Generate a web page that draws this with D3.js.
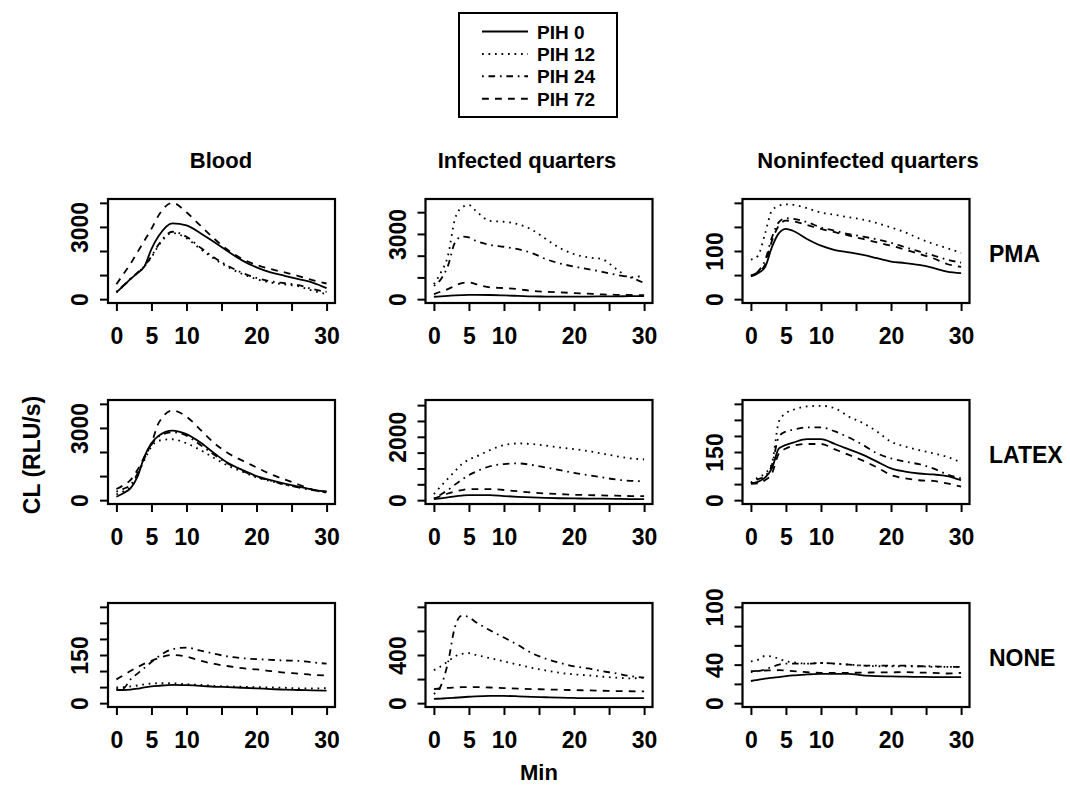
<!DOCTYPE html>
<html>
<head>
<meta charset="utf-8">
<script src="https://cdn.jsdelivr.net/npm/d3@7"></script>
<style>
  html, body { margin: 0; padding: 0; background: #fff; }
  text { font-family: "Liberation Sans", Arial, Helvetica, sans-serif; font-weight: bold; fill: #000; }
</style>
</head>
<body>
<div id="board"></div>
<script>
// minutes after stimulation
var times = [0,1,2,3,4,5,6,8,10,12,14,16,18,20,22,24,26,28,30];
var groups = ["PIH 0","PIH 12","PIH 24","PIH 72"];
var columns = ["Blood","Infected quarters","Noninfected quarters"];
var rows = ["PMA","LATEX","NONE"];

// series per panel, order = groups (PIH 0, 12, 24, 72)
var bloodPMA = [
  [280,550,830,1080,1360,2080,2610,3150,3060,2740,2360,1970,1600,1320,1110,970,830,690,460],
  [280,550,830,1080,1360,1740,2220,2750,2530,2080,1670,1320,1040,830,690,610,530,350,210],
  [300,570,850,1100,1380,1780,2260,2800,2590,2140,1720,1370,1090,880,740,660,580,420,300],
  [620,1040,1460,1950,2430,2920,3470,4000,3610,3050,2500,2020,1670,1420,1250,1110,960,790,650]
];
var infectedPMA = [
  [110,130,150,170,185,195,200,190,170,150,125,120,120,120,120,125,130,135,140],
  [690,1230,1990,3680,4220,4330,4060,3600,3560,3450,3190,2760,2350,2070,1920,1840,1400,1000,1100],
  [610,920,1530,2600,2880,2840,2680,2500,2410,2300,2120,1840,1640,1500,1380,1260,1120,1000,740],
  [230,350,460,620,740,770,690,540,510,460,380,340,310,280,250,220,200,190,180]
];
var noninfPMA = [
  [47,54,66,108,137,146,142,125,111,102,97,92,85,78,75,71,65,57,54],
  [82,90,135,184,194,197,196,189,180,175,170,165,158,149,139,126,115,106,96],
  [49,57,80,128,160,168,167,160,149,142,135,130,124,117,108,99,91,82,76],
  [49,56,71,121,153,163,162,154,146,139,132,125,118,111,103,94,85,73,67]
];
var bloodLATEX = [
  [140,290,490,970,1810,2360,2670,2890,2740,2390,1940,1530,1250,1000,830,690,560,440,350],
  [240,370,530,1050,1670,2220,2470,2530,2360,2080,1740,1420,1180,940,790,650,530,420,310],
  [350,470,630,1100,1740,2300,2640,2820,2680,2290,1880,1500,1220,970,810,650,530,420,320],
  [460,620,830,1250,1810,2360,3190,3720,3470,2920,2360,1940,1640,1360,1080,860,650,440,350]
];
var infectedLATEX = [
  [30,55,85,120,145,160,160,160,130,105,85,70,60,55,50,45,40,35,35],
  [190,440,680,910,1140,1280,1370,1580,1740,1790,1770,1720,1660,1610,1550,1470,1390,1320,1290],
  [50,180,320,490,650,790,900,1070,1140,1160,1110,1030,950,860,790,720,650,610,600],
  [50,130,210,270,320,350,350,350,320,280,240,210,190,170,160,150,140,130,125]
];
var noninfLATEX = [
  [52,57,70,99,161,172,179,190,190,175,158,141,120,99,89,83,80,75,62],
  [54,71,83,115,245,271,281,292,294,286,260,240,214,182,167,156,146,135,117],
  [54,65,75,109,198,214,219,227,227,214,195,172,146,130,120,112,99,80,68],
  [51,52,62,83,146,161,169,175,175,158,141,123,102,78,68,62,60,52,42]
];
var bloodNONE = [
  [41,41,42,45,49,52,54,57,56,54,51,50,48,46,44,42,41,40,39],
  [49,50,52,55,59,61,62,62,59,57,54,52,51,50,49,48,46,46,47],
  [44,46,74,92,110,128,145,168,173,164,154,145,140,137,135,133,132,127,123],
  [74,87,100,112,123,132,140,150,145,132,122,115,109,105,100,95,92,88,86]
];
var infectedNONE = [
  [35,38,41,45,49,53,57,60,60,57,52,49,46,43,41,41,41,41,41],
  [274,306,347,388,410,415,401,374,347,320,293,271,252,239,231,220,212,206,212],
  [76,144,334,632,727,713,673,605,545,483,415,369,334,306,288,266,247,225,212],
  [117,122,127,130,133,134,133,130,125,121,117,114,111,108,106,103,100,99,98]
];
var noninfNONE = [
  [23,24.2,25.4,26.3,27.1,28,28.8,29.8,30.5,30.5,30.5,28.8,28.1,27.8,27.5,27.3,27.1,27.1,27.1],
  [43.4,45,49,48.5,46,43.4,42.4,41,41.7,41,40,39,38.3,38.3,38.3,38.3,37.6,37.6,37.6],
  [32.2,33.2,35,37.6,40,41,41,41,41.7,41,40,39,39,39,39,38.3,38.3,37.6,37.6],
  [33.2,33.5,33.9,34,34.2,33.8,33.2,32.2,31.5,31.5,31.5,31.7,31.9,32,32.2,31.8,31.5,30.8,31.5]
];

var panelData = [
  [bloodPMA, infectedPMA, noninfPMA],
  [bloodLATEX, infectedLATEX, noninfLATEX],
  [bloodNONE, infectedNONE, noninfNONE]
];

// y axis limits, tick steps and labelled ticks
var yMax = [[4000,4430,200],[4000,3040,300],[300,800,100]];
var yStep = [[1000,1000,50],[1000,500,50],[50,200,20]];
var yLabels = [[[0,3000],[0,3000],[0,100]],[[0,3000],[0,2000],[0,150]],[[0,150],[0,400],[0,40,100]]];
var xTicks = [0,5,10,15,20,25,30];
var xLabels = [0,5,10,20,30];

var dashes = [null, "1.7,4.8", "1.7,4.8,6.6,4.8", "6.8,6.2"];

// layout
var colLeft = [108, 425.5, 742.5];
var rowTop = [199, 400, 603];
var boxW = 227, boxH = 104;
var titleX = [221, 527, 868];

var svg = d3.select("#board").append("svg")
  .attr("width", 1070)
  .attr("height", 786);

// legend
var lg = svg.append("g");
lg.append("rect").attr("x", 459).attr("y", 13).attr("width", 158).attr("height", 104)
  .style("fill", "none").style("stroke", "#000").style("stroke-width", 2);
groups.forEach(function(g, i){
  var yy = 31.5 + i*22.4;
  lg.append("line").attr("x1", 482).attr("x2", 528).attr("y1", yy).attr("y2", yy)
    .style("stroke", "#000").style("stroke-width", 2)
    .style("stroke-dasharray", dashes[i]);
  lg.append("text").attr("x", 537).attr("y", yy + 7).style("font-size", "19px").text(g);
});

// column titles
columns.forEach(function(c, j){
  svg.append("text").attr("x", titleX[j]).attr("y", 168)
    .style("font-size", "22px").style("text-anchor", "middle").text(c);
});

rows.forEach(function(r, i){
  columns.forEach(function(c, j){
    var left = colLeft[j], top = rowTop[i];
    var M = yMax[i][j];
    var x = d3.scaleLinear().domain([-1.2, 31.2]).range([left, left + boxW]);
    var y = d3.scaleLinear().domain([-0.04*M, 1.04*M]).range([top + boxH, top]);

    var g = svg.append("g");

    // curves
    var line = d3.line()
      .x(function(d){ return x(d[0]); })
      .y(function(d){ return y(d[1]); })
      .curve(d3.curveMonotoneX);
    panelData[i][j].forEach(function(vals, k){
      g.append("path")
        .attr("d", line(times.map(function(t, n){ return [t, vals[n]]; })))
        .style("fill", "none")
        .style("stroke", "#000")
        .style("stroke-width", 1.8)
        .style("stroke-dasharray", dashes[k]);
    });

    // x axis
    var xa = g.append("g").attr("transform", "translate(0," + (top + boxH) + ")")
      .call(d3.axisBottom(x).tickValues(xTicks).tickSize(8).tickSizeOuter(0).tickPadding(17)
        .tickFormat(function(d){ return xLabels.indexOf(d) >= 0 ? d : ""; }));

    // y axis
    var yt = d3.range(0, M + 0.001, yStep[i][j]);
    var ya = g.append("g").attr("transform", "translate(" + left + ",0)")
      .call(d3.axisLeft(y).tickValues(yt).tickSize(8).tickSizeOuter(0)
        .tickFormat(function(d){ return yLabels[i][j].indexOf(d) >= 0 ? d : ""; }));
    ya.selectAll("text")
      .attr("transform", "rotate(-90)")
      .attr("x", 0).attr("y", -20).attr("dy", null)
      .style("text-anchor", "middle");

    [xa, ya].forEach(function(a){
      a.selectAll("text").style("font-size", "23px").style("font-family", null);
      a.selectAll("line").style("stroke-width", 2);
      a.select(".domain").remove();
    });

    // box
    g.append("rect").attr("x", left).attr("y", top).attr("width", boxW).attr("height", boxH)
      .style("fill", "none").style("stroke", "#000").style("stroke-width", 2.2);

    // row labels
    if (j === 2) {
      svg.append("text").attr("x", 989).attr("y", top + boxH/2 + 11)
        .style("font-size", "23px").text(r);
    }
  });
});

// axis titles
svg.append("text").attr("transform", "translate(40,455) rotate(-90)")
  .style("font-size", "23px").style("text-anchor", "middle").text("CL (RLU/s)");
svg.append("text").attr("x", 539).attr("y", 780)
  .style("font-size", "22px").style("text-anchor", "middle").text("Min");
</script>
</body>
</html>
